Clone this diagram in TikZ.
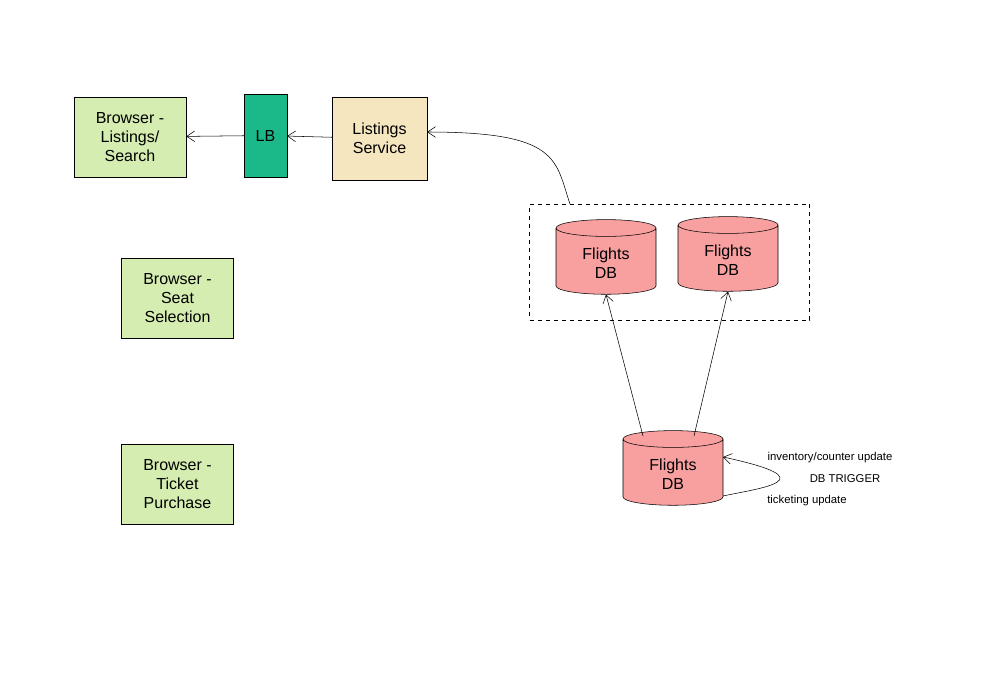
\documentclass[tikz,border=0pt]{standalone}
\usepackage{fontspec}
\setmainfont{Liberation Sans}
\usetikzlibrary{shapes.geometric,arrows.meta}
\definecolor{browsergreen}{HTML}{D5EDB0}
\definecolor{lbgreen}{HTML}{1BB98A}
\definecolor{svcbeige}{HTML}{F6E6C0}
\definecolor{dbred}{HTML}{F8A0A0}
\tikzset{
  box/.style={draw,align=center,font=\fontsize{12}{14}\selectfont},
  browser/.style={box,fill=browsergreen,minimum width=84pt,minimum height=60pt},
  db/.style={draw,cylinder,shape border rotate=90,aspect=0.3,fill=dbred,
    minimum width=75pt,minimum height=56pt,align=center,font=\fontsize{12}{14}\selectfont},
  lbl/.style={font=\fontsize{8.5}{10}\selectfont},
}
\begin{document}
\begin{tikzpicture}[x=0.75pt,y=-0.75pt,>={Straight Barb[length=6pt,width=8pt]}]
            \useasboundingbox (0,0) rectangle (1002,676);
            \node (bl) at (130,137) [browser] {Browser -\\Listings/\\Search};
            \node (lb) at (265.5,135.5) [box,fill=lbgreen,minimum width=32pt,minimum height=62pt] {LB};
            \node (ls) at (379.5,138.5) [box,fill=svcbeige,minimum width=71pt,minimum height=62pt] {Listings\\Service};
            \node (bs) at (177.5,298) [browser] {Browser -\\Seat\\Selection};
            \node (bt) at (177.5,484) [browser] {Browser -\\Ticket\\Purchase};

            \node (replicas) at (669.5,262) [draw,dashed,minimum width=210pt,minimum height=87pt] {};
            \node (db1) at (606,263) [db] {Flights\\DB};
            \node (db2) at (728,260) [db] {Flights\\DB};
            \node (db3) at (673,474) [db] {Flights\\DB};

            \coordinate (loopin) at (723,457);
            \coordinate (loopout) at (723,496);

            \draw[->] (lb) -- (bl);
            \draw[->] (ls) -- (lb);
            \draw[->] (570,204) .. controls (555,160) and (560,132) .. (ls.east |- 0,132);
            \draw[->] (643,436) -- (db1.south);
            \draw[->] (694,436) -- (db2.south);
            \draw[->] (loopout) .. controls (760,488) and (830,480) .. (loopin);

            \node (inv) at (830,458) [lbl] {inventory/counter update};
            \node (trig) at (845,479) [lbl] {DB TRIGGER};
            \node (tick) at (807,501) [lbl] {ticketing update};
        \end{tikzpicture}
\end{document}
